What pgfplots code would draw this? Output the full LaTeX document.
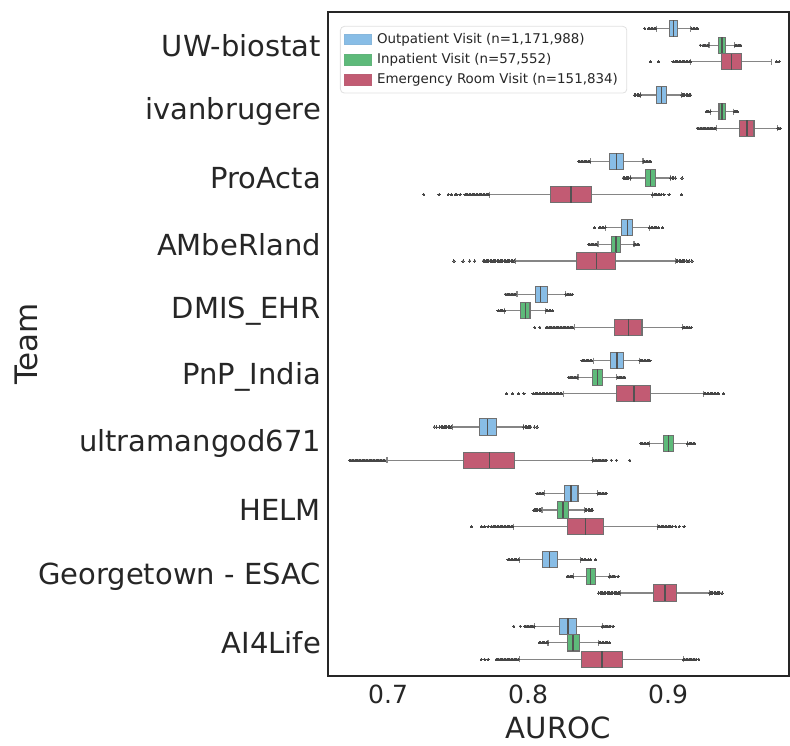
\documentclass[border=0pt]{standalone}
\usepackage{pgfplots}
\pgfplotsset{compat=1.18}
\usepgfplotslibrary{statistics}
\usepackage{fontspec}
\setmainfont{DejaVu Sans}
\definecolor{cblue}{RGB}{136,189,230}
\definecolor{cgreen}{RGB}{94,186,122}
\definecolor{cred}{RGB}{194,91,115}
\definecolor{edgeg}{RGB}{112,112,112}
\definecolor{flier}{RGB}{70,70,70}
\definecolor{txt}{RGB}{38,38,38}
\newcommand{\bx}[8]{\addplot[boxplot prepared={draw position=#2, lower whisker=#3, lower quartile=#4, median=#5, upper quartile=#6, upper whisker=#7}, fill=#1, draw=edgeg, line width=0.55pt, mark=*, mark size=0.55pt, mark options={fill=flier, draw=flier, line width=0pt}, forget plot] coordinates {#8};}
\begin{document}
\begin{tikzpicture}
\begin{axis}[
  name=ax, at={(0,0)}, anchor=south west,
  scale only axis, width=230.5pt, height=332pt,
  xmin=0.6571, xmax=0.9864, ymin=-0.5, ymax=9.5, y dir=reverse,
  xtick={0.7,0.8,0.9}, xticklabels={0.7,0.8,0.9},
  ytick={0,...,9},
  yticklabels={UW-biostat, ivanbrugere, ProActa, AMbeRland, DMIS\_EHR, PnP\_India, ultramangod671, HELM, Georgetown - ESAC, AI4Life},
  major tick length=0pt,
  axis line style={draw=txt, line width=0.8pt},
  x tick label style={font=\fontsize{12.5}{14}\selectfont, text=txt, yshift=-1pt},
  y tick label style={font=\fontsize{14.5}{17}\selectfont, text=txt},
  xlabel={AUROC}, ylabel={Team},
  xlabel style={font=\fontsize{14.6}{17}\selectfont, text=txt, at={(axis description cs:0.5,-0.078)}, anchor=center},
  ylabel style={font=\fontsize{15.5}{18}\selectfont, text=txt, at={(axis description cs:-0.655,0.5)}, anchor=center, rotate=0},
  boxplot/draw direction=x,
  boxplot/box extend=0.245,
  boxplot/whisker extend=0.09,
  boxplot/every whisker/.style={draw=edgeg!85, line width=0.6pt},
  boxplot/every median/.style={draw=edgeg!120, line width=0.7pt},
  legend style={at={(axis description cs:0.026,0.979)}, anchor=north west, draw=black!12, rounded corners=2pt, font=\fontsize{6.7}{8}\selectfont, text=txt, inner xsep=2pt, inner ysep=2.5pt, row sep=1.9pt, nodes={inner ysep=0.8pt, inner xsep=2.5pt}},
  legend cell align=left,
  legend image code/.code={\draw[sharp corners, #1] (0pt,-2.6pt) rectangle (13.5pt,2.6pt);},
]
\addlegendimage{fill=cblue, draw=cblue!90!gray}
\addlegendentry{Outpatient Visit (n=1,171,988)}
\addlegendimage{fill=cgreen, draw=cgreen!90!gray}
\addlegendentry{Inpatient Visit (n=57,552)}
\addlegendimage{fill=cred, draw=cred!90!gray}
\addlegendentry{Emergency Room Visit (n=151,834)}
% UW-biostat
\bx{cblue}{-0.25}{0.8916}{0.9012}{0.9038}{0.9066}{0.9162}{(0,0.8834)(0,0.886)(0,0.887)(0,0.888)(0,0.889)(0,0.890)(0,0.891)(0,0.917)(0,0.918)(0,0.919)(0,0.920)(0,0.921)}
\bx{cgreen}{0}{0.9293}{0.9362}{0.9384}{0.9412}{0.9474}{(0,0.9231)(0,0.925)(0,0.926)(0,0.927)(0,0.928)(0,0.929)(0,0.948)(0,0.949)(0,0.950)(0,0.951)(0,0.952)}
\bx{cred}{0.25}{0.9162}{0.9381}{0.9455}{0.9524}{0.9738}{(0,0.8874)(0,0.8929)(0,0.9036)(0,0.905)(0,0.906)(0,0.907)(0,0.908)(0,0.909)(0,0.910)(0,0.911)(0,0.912)(0,0.913)(0,0.914)(0,0.915)(0,0.916)(0,0.9774)(0,0.9793)}
% ivanbrugere
\bx{cblue}{0.75}{0.8805}{0.8916}{0.8952}{0.8988}{0.9095}{(0,0.8762)(0,0.877)(0,0.878)(0,0.879)(0,0.880)(0,0.910)(0,0.911)(0,0.912)(0,0.913)(0,0.914)(0,0.915)(0,0.916)}
\bx{cgreen}{1}{0.9305}{0.9364}{0.9386}{0.9409}{0.9469}{(0,0.9274)(0,0.928)(0,0.929)(0,0.930)(0,0.9475)(0,0.948)(0,0.949)(0,0.9495)}
\bx{cred}{1.25}{0.9345}{0.9512}{0.9564}{0.9614}{0.9779}{(0,0.9209)(0,0.922)(0,0.923)(0,0.924)(0,0.925)(0,0.926)(0,0.927)(0,0.928)(0,0.929)(0,0.930)(0,0.931)(0,0.932)(0,0.933)(0,0.934)(0,0.9785)(0,0.979)(0,0.980)}
% ProActa
\bx{cblue}{1.75}{0.8445}{0.8584}{0.8631}{0.8679}{0.8821}{(0,0.8362)(0,0.837)(0,0.838)(0,0.839)(0,0.840)(0,0.841)(0,0.842)(0,0.843)(0,0.844)(0,0.8825)(0,0.8835)(0,0.8845)(0,0.8855)(0,0.8865)(0,0.8876)}
\bx{cgreen}{2}{0.8734}{0.8838}{0.8874}{0.8909}{0.9016}{(0,0.8679)(0,0.869)(0,0.870)(0,0.871)(0,0.872)(0,0.873)(0,0.902)(0,0.903)(0,0.904)(0,0.9052)(0,0.910)}
\bx{cred}{2.25}{0.7726}{0.8162}{0.8307}{0.8452}{0.8888}{(0,0.7255)(0,0.7364)(0,0.7429)(0,0.7452)(0,0.748)(0,0.749)(0,0.7514)(0,0.755)(0,0.756)(0,0.757)(0,0.758)(0,0.759)(0,0.760)(0,0.761)(0,0.762)(0,0.763)(0,0.764)(0,0.765)(0,0.766)(0,0.767)(0,0.768)(0,0.769)(0,0.770)(0,0.771)(0,0.772)(0,0.889)(0,0.890)(0,0.891)(0,0.892)(0,0.893)(0,0.894)(0,0.895)(0,0.8971)(0,0.9007)(0,0.9095)}
% AMbeRland
\bx{cblue}{2.75}{0.8552}{0.8667}{0.8710}{0.8745}{0.8869}{(0,0.8476)(0,0.8512)(0,0.852)(0,0.853)(0,0.854)(0,0.855)(0,0.887)(0,0.888)(0,0.889)(0,0.890)(0,0.891)(0,0.892)(0,0.893)(0,0.8959)}
\bx{cgreen}{3}{0.8500}{0.8595}{0.8629}{0.8662}{0.8757}{(0,0.8434)(0,0.844)(0,0.845)(0,0.846)(0,0.847)(0,0.848)(0,0.849)(0,0.876)(0,0.877)(0,0.878)(0,0.8791)}
\bx{cred}{3.25}{0.7909}{0.8343}{0.8488}{0.8626}{0.9055}{(0,0.7471)(0,0.7536)(0,0.7584)(0,0.762)(0,0.7679)(0,0.769)(0,0.770)(0,0.771)(0,0.772)(0,0.773)(0,0.774)(0,0.775)(0,0.776)(0,0.777)(0,0.778)(0,0.779)(0,0.780)(0,0.781)(0,0.782)(0,0.783)(0,0.784)(0,0.785)(0,0.786)(0,0.787)(0,0.788)(0,0.789)(0,0.790)(0,0.906)(0,0.907)(0,0.908)(0,0.909)(0,0.910)(0,0.911)(0,0.912)(0,0.9135)(0,0.915)(0,0.9171)}
% DMIS_EHR
\bx{cblue}{3.75}{0.7921}{0.8052}{0.8091}{0.8136}{0.8266}{(0,0.7838)(0,0.785)(0,0.786)(0,0.787)(0,0.788)(0,0.789)(0,0.790)(0,0.791)(0,0.827)(0,0.828)(0,0.829)(0,0.830)(0,0.8316)}
\bx{cgreen}{4}{0.7834}{0.7948}{0.7981}{0.8014}{0.8124}{(0,0.7786)(0,0.779)(0,0.780)(0,0.781)(0,0.782)(0,0.783)(0,0.813)(0,0.814)(0,0.815)(0,0.816)(0,0.8174)}
\bx{cred}{4.25}{0.8329}{0.8619}{0.8719}{0.8814}{0.9102}{(0,0.8048)(0,0.8084)(0,0.8131)(0,0.814)(0,0.815)(0,0.816)(0,0.817)(0,0.818)(0,0.819)(0,0.820)(0,0.821)(0,0.822)(0,0.823)(0,0.824)(0,0.825)(0,0.826)(0,0.827)(0,0.828)(0,0.829)(0,0.830)(0,0.831)(0,0.832)(0,0.9107)(0,0.912)(0,0.913)(0,0.914)(0,0.915)(0,0.9166)}
% PnP_India
\bx{cblue}{4.75}{0.8469}{0.8591}{0.8634}{0.8679}{0.8798}{(0,0.8386)(0,0.8395)(0,0.8405)(0,0.8415)(0,0.8425)(0,0.8435)(0,0.8445)(0,0.8455)(0,0.880)(0,0.881)(0,0.882)(0,0.883)(0,0.884)(0,0.885)(0,0.886)(0,0.8871)}
\bx{cgreen}{5}{0.8357}{0.8462}{0.8495}{0.8531}{0.8634}{(0,0.8291)(0,0.830)(0,0.831)(0,0.832)(0,0.833)(0,0.834)(0,0.835)(0,0.864)(0,0.865)(0,0.866)(0,0.867)(0,0.868)(0,0.8691)}
\bx{cred}{5.25}{0.8252}{0.8629}{0.8757}{0.8876}{0.9255}{(0,0.7845)(0,0.7888)(0,0.7934)(0,0.7971)(0,0.8036)(0,0.805)(0,0.806)(0,0.807)(0,0.808)(0,0.809)(0,0.810)(0,0.811)(0,0.812)(0,0.813)(0,0.814)(0,0.815)(0,0.816)(0,0.817)(0,0.818)(0,0.819)(0,0.820)(0,0.821)(0,0.822)(0,0.823)(0,0.824)(0,0.926)(0,0.927)(0,0.928)(0,0.929)(0,0.930)(0,0.931)(0,0.932)(0,0.933)(0,0.934)(0,0.935)(0,0.936)(0,0.9398)}
% ultramangod671
\bx{cblue}{5.75}{0.7459}{0.7650}{0.7709}{0.7774}{0.7969}{(0,0.7329)(0,0.7345)(0,0.7369)(0,0.738)(0,0.739)(0,0.740)(0,0.741)(0,0.742)(0,0.743)(0,0.744)(0,0.745)(0,0.797)(0,0.798)(0,0.799)(0,0.800)(0,0.801)(0,0.802)(0,0.8045)(0,0.8064)}
\bx{cgreen}{6}{0.8869}{0.8966}{0.9002}{0.9038}{0.9138}{(0,0.8805)(0,0.881)(0,0.882)(0,0.883)(0,0.884)(0,0.885)(0,0.886)(0,0.914)(0,0.915)(0,0.916)(0,0.917)(0,0.918)(0,0.9191)}
\bx{cred}{6.25}{0.6993}{0.7538}{0.7724}{0.7905}{0.8459}{(0,0.6726)(0,0.6735)(0,0.6745)(0,0.6755)(0,0.6765)(0,0.6775)(0,0.6785)(0,0.6795)(0,0.6805)(0,0.6815)(0,0.6825)(0,0.6835)(0,0.6845)(0,0.6855)(0,0.6865)(0,0.6875)(0,0.6885)(0,0.6895)(0,0.6905)(0,0.6915)(0,0.6925)(0,0.6935)(0,0.6945)(0,0.6955)(0,0.6965)(0,0.6976)(0,0.846)(0,0.847)(0,0.848)(0,0.849)(0,0.850)(0,0.851)(0,0.852)(0,0.853)(0,0.854)(0,0.855)(0,0.856)(0,0.8595)(0,0.8631)(0,0.8726)}
% HELM
\bx{cblue}{6.75}{0.8119}{0.8259}{0.8307}{0.8357}{0.8498}{(0,0.8064)(0,0.807)(0,0.808)(0,0.809)(0,0.810)(0,0.811)(0,0.850)(0,0.851)(0,0.852)(0,0.853)(0,0.854)(0,0.855)(0,0.8559)}
\bx{cgreen}{7}{0.8100}{0.8209}{0.8250}{0.8286}{0.8405}{(0,0.8043)(0,0.805)(0,0.806)(0,0.807)(0,0.808)(0,0.809)(0,0.841)(0,0.842)(0,0.843)(0,0.844)(0,0.845)(0,0.8459)}
\bx{cred}{7.25}{0.7898}{0.8281}{0.8412}{0.8538}{0.8924}{(0,0.7595)(0,0.7666)(0,0.7690)(0,0.7714)(0,0.7738)(0,0.775)(0,0.776)(0,0.777)(0,0.778)(0,0.779)(0,0.780)(0,0.781)(0,0.782)(0,0.783)(0,0.784)(0,0.785)(0,0.786)(0,0.787)(0,0.788)(0,0.789)(0,0.893)(0,0.894)(0,0.895)(0,0.896)(0,0.897)(0,0.898)(0,0.899)(0,0.900)(0,0.901)(0,0.902)(0,0.903)(0,0.9055)(0,0.908)(0,0.9114)}
% Georgetown - ESAC
\bx{cblue}{7.75}{0.7941}{0.8102}{0.8155}{0.8209}{0.8376}{(0,0.7857)(0,0.787)(0,0.788)(0,0.789)(0,0.790)(0,0.791)(0,0.792)(0,0.793)(0,0.838)(0,0.839)(0,0.840)(0,0.841)(0,0.8429)(0,0.8445)(0,0.8484)}
\bx{cgreen}{8}{0.8326}{0.8416}{0.8448}{0.8481}{0.8579}{(0,0.8281)(0,0.829)(0,0.830)(0,0.831)(0,0.832)(0,0.858)(0,0.859)(0,0.860)(0,0.861)(0,0.862)(0,0.8643)}
\bx{cred}{8.25}{0.8659}{0.8898}{0.8979}{0.9059}{0.9298}{(0,0.8505)(0,0.8515)(0,0.8525)(0,0.8535)(0,0.8545)(0,0.8555)(0,0.8565)(0,0.8575)(0,0.8585)(0,0.8595)(0,0.8605)(0,0.8615)(0,0.8625)(0,0.8635)(0,0.8645)(0,0.8655)(0,0.930)(0,0.931)(0,0.932)(0,0.933)(0,0.934)(0,0.935)(0,0.936)(0,0.937)(0,0.9386)}
% AI4Life
\bx{cblue}{8.75}{0.8048}{0.8226}{0.8286}{0.8345}{0.8529}{(0,0.7898)(0,0.7945)(0,0.7976)(0,0.7985)(0,0.7995)(0,0.8005)(0,0.8015)(0,0.8025)(0,0.8035)(0,0.8045)(0,0.853)(0,0.854)(0,0.855)(0,0.856)(0,0.857)(0,0.858)(0,0.859)(0,0.8607)}
\bx{cgreen}{9}{0.8143}{0.8279}{0.8321}{0.8366}{0.8505}{(0,0.8084)(0,0.809)(0,0.810)(0,0.811)(0,0.812)(0,0.813)(0,0.814)(0,0.851)(0,0.852)(0,0.853)(0,0.854)(0,0.855)(0,0.856)(0,0.857)(0,0.8579)}
\bx{cred}{9.25}{0.7941}{0.8381}{0.8529}{0.8674}{0.9109}{(0,0.7666)(0,0.7690)(0,0.7714)(0,0.7774)(0,0.778)(0,0.779)(0,0.780)(0,0.781)(0,0.782)(0,0.783)(0,0.784)(0,0.785)(0,0.786)(0,0.787)(0,0.788)(0,0.789)(0,0.790)(0,0.791)(0,0.792)(0,0.793)(0,0.911)(0,0.912)(0,0.913)(0,0.914)(0,0.915)(0,0.916)(0,0.917)(0,0.918)(0,0.919)(0,0.920)(0,0.922)}
\end{axis}
\path[use as bounding box] (-164pt,-34pt) rectangle (231pt,338pt);
\end{tikzpicture}
\end{document}
